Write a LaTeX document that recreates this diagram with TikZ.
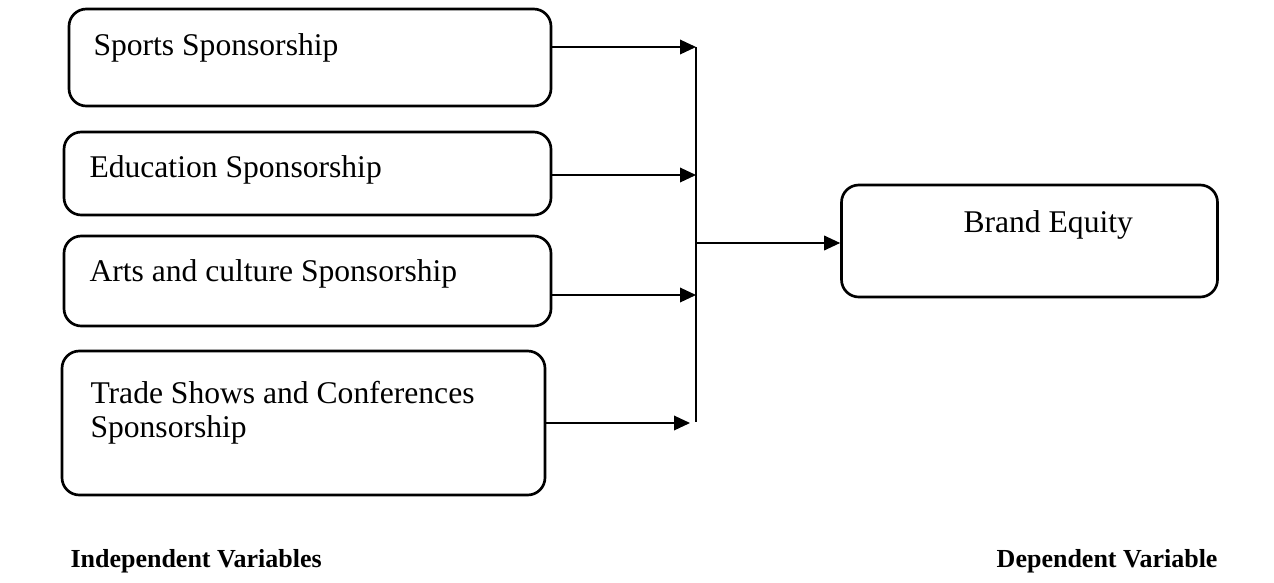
\documentclass[tikz,border=0pt]{standalone}
\usepackage{fontspec}
\setmainfont{Liberation Serif}
\usetikzlibrary{arrows.meta}

\tikzset{every picture/.style={line width=0.75pt}}
\tikzset{
  varbox/.style={draw, line width=2pt, rounded corners=13pt, inner sep=0pt},
  flow/.style={line width=1pt, -{Triangle[length=12pt,width=11pt]}},
  boxtext/.style={anchor=base west, inner sep=0pt, font=\fontsize{23.7}{25.5}\selectfont, align=left},
  vartext/.style={anchor=base west, inner sep=0pt, font=\fontsize{19.5}{22}\selectfont\bfseries}
}

\begin{document}
\begin{tikzpicture}[x=0.75pt,y=0.75pt,yscale=-1,xscale=1]
\useasboundingbox (0,0) rectangle (1274,582);

%Shape: Rounded Rect
\node [varbox, minimum width=361.5pt, minimum height=72.75pt] (sports) at (310,57.5) {};
%Shape: Rounded Rect
\node [varbox, minimum width=365.25pt, minimum height=62.25pt] (edu) at (307.5,173.5) {};
%Shape: Rounded Rect
\node [varbox, minimum width=365.25pt, minimum height=67.5pt] (arts) at (307.5,281) {};
%Shape: Rounded Rect
\node [varbox, minimum width=362.25pt, minimum height=108pt] (trade) at (303.5,423) {};
%Shape: Rounded Rect
\node [varbox, minimum width=282pt, minimum height=84pt] (brand) at (1029.5,241) {};

% Text Node
\node [boxtext] (sportslbl) at (93,55) {Sports Sponsorship};
% Text Node
\node [boxtext] (edulbl) at (89,177) {Education Sponsorship};
% Text Node
\node [boxtext] (artslbl) at (89,281) {Arts and culture Sponsorship};
% Text Node
\node [boxtext] (tradelbl) at (90,437) {Trade Shows and Conferences\\Sponsorship};
% Text Node
\node [boxtext] (brandlbl) at (963,232) {Brand Equity};
% Text Node
\node [vartext] (indep) at (70,567) {Independent Variables};
% Text Node
\node [vartext, anchor=base east] (dep) at (1218,567) {Dependent Variable};

%Straight Lines (bus)
\coordinate (bustop) at (696,47);
\coordinate (busbot) at (696,422);
\coordinate (j2) at (696,175);
\coordinate (j3) at (696,295);
\coordinate (j4) at (690,423);
\coordinate (hub) at (696,243);
\draw [line width=1pt] (bustop) -- (busbot);

%Straight Lines
\draw [flow] (sports.east |- bustop) -- (bustop);
%Straight Lines
\draw [flow] (edu.east |- j2) -- (j2);
%Straight Lines
\draw [flow] (arts.east |- j3) -- (j3);
%Straight Lines
\draw [flow] (trade.east |- j4) -- (j4);
%Straight Lines
\draw [flow] (hub) -- (hub -| brand.west);

\end{tikzpicture}
\end{document}
